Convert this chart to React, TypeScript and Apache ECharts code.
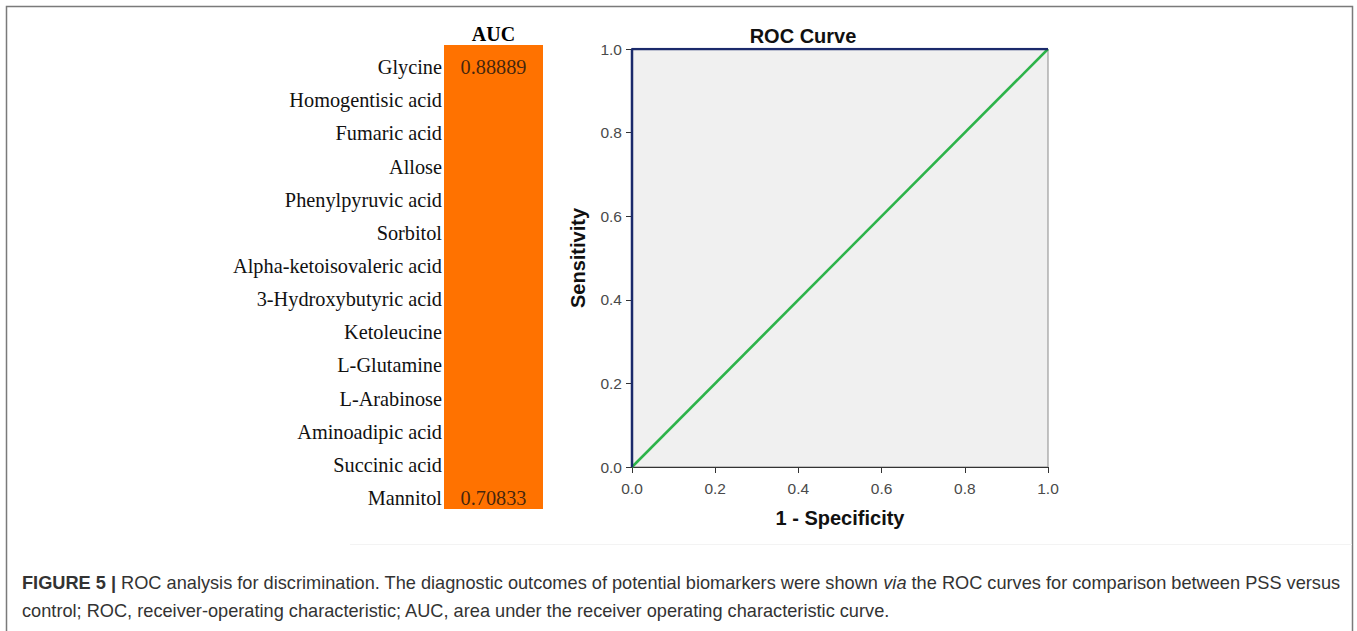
import React, { useEffect, useRef } from "react";
import * as echarts from "echarts";

const compounds = [
  "Glycine",
  "Homogentisic acid",
  "Fumaric acid",
  "Allose",
  "Phenylpyruvic acid",
  "Sorbitol",
  "Alpha-ketoisovaleric acid",
  "3-Hydroxybutyric acid",
  "Ketoleucine",
  "L-Glutamine",
  "L-Arabinose",
  "Aminoadipic acid",
  "Succinic acid",
  "Mannitol",
];
const aucValues: (number | null)[] = [
  0.88889, null, null, null, null, null, null, null, null, null, null, null, null, 0.70833,
];
const aucColumn = ["AUC"];

const rocFpr = [0, 0, 1];
const rocTpr = [0, 1, 1];
const refFpr = [0, 1];
const refTpr = [0, 1];

const chartTitle = "ROC Curve";
const xName = "1 - Specificity";
const yName = "Sensitivity";
const captionLine1 =
  "{b|FIGURE 5 |} ROC analysis for discrimination. The diagnostic outcomes of potential biomarkers were shown {i|via} the ROC curves for comparison between PSS versus";
const captionLine2 =
  "control; ROC, receiver-operating characteristic; AUC, area under the receiver operating characteristic curve.";

const SERIF = "'Liberation Serif', 'Times New Roman', serif";
const SANS = "'Liberation Sans', Arial, sans-serif";
const CAP = 18.2;

export default function App() {
  const ref = useRef<HTMLDivElement>(null);
  useEffect(() => {
    document.body.style.margin = "0";
    const chart = echarts.init(ref.current!, undefined, { renderer: "svg" });
    const aucData = compounds
      .map((c, i) => (aucValues[i] == null ? null : [aucColumn[0], c, aucValues[i]]))
      .filter((d) => d !== null);
    const option: any = {
      animation: false,
      backgroundColor: "#ffffff",
      title: {
        text: chartTitle,
        left: 803,
        top: 26,
        textAlign: "center",
        padding: 0,
        textStyle: { fontFamily: SANS, fontSize: 20, fontWeight: "bold", color: "#111" },
      },
      grid: [
        {
          left: 444,
          top: 45,
          width: 99,
          height: 464,
          show: true,
          backgroundColor: "#FF7200",
          borderWidth: 0,
        },
        {
          left: 632,
          top: 49,
          width: 416,
          height: 418,
          show: true,
          backgroundColor: "#F0F0F0",
          borderColor: "#8a8a8a",
          borderWidth: 1,
        },
      ],
      xAxis: [
        {
          gridIndex: 0,
          type: "category",
          data: aucColumn,
          position: "top",
          axisLine: { show: false },
          axisTick: { show: false },
          axisLabel: {
            margin: 1,
            fontFamily: SERIF,
            fontSize: 20,
            fontWeight: "bold",
            color: "#000",
          },
        },
        {
          gridIndex: 1,
          type: "value",
          min: 0,
          max: 1,
          interval: 0.2,
          splitLine: { show: false },
          axisLine: { show: true, onZero: false, lineStyle: { color: "#333", width: 1 } },
          axisTick: { show: true, length: 6, lineStyle: { color: "#333" } },
          axisLabel: {
            margin: 13,
            fontFamily: SANS,
            fontSize: 15.5,
            color: "#4a4a4a",
            formatter: (v: number) => v.toFixed(1),
          },
          name: xName,
          nameLocation: "middle",
          nameGap: 41,
          nameTextStyle: { fontFamily: SANS, fontSize: 20, fontWeight: "bold", color: "#111" },
        },
      ],
      yAxis: [
        {
          gridIndex: 0,
          type: "category",
          data: compounds,
          inverse: true,
          axisLine: { show: false },
          axisTick: { show: false },
          axisLabel: {
            margin: 2,
            fontFamily: SERIF,
            fontSize: 20.3,
            color: "#111",
            verticalAlign: "top",
            lineHeight: 11,
          },
        },
        {
          gridIndex: 1,
          type: "value",
          min: 0,
          max: 1,
          interval: 0.2,
          splitLine: { show: false },
          axisLine: { show: true, onZero: false, lineStyle: { color: "#333", width: 1 } },
          axisTick: { show: true, length: 6, lineStyle: { color: "#333" } },
          axisLabel: {
            margin: 10,
            fontFamily: SANS,
            fontSize: 15.5,
            color: "#4a4a4a",
            formatter: (v: number) => v.toFixed(1),
          },
          name: yName,
          nameLocation: "middle",
          nameGap: 44,
          nameTextStyle: { fontFamily: SANS, fontSize: 20, fontWeight: "bold", color: "#111" },
        },
      ],
      series: [
        {
          type: "scatter",
          xAxisIndex: 0,
          yAxisIndex: 0,
          data: aucData,
          symbol: "circle",
          symbolSize: 1,
          itemStyle: { color: "rgba(0,0,0,0)" },
          label: {
            show: true,
            position: "inside",
            offset: [0, 5.5],
            formatter: (p: any) => Number(p.value[2]).toFixed(5),
            fontFamily: SERIF,
            fontSize: 20.3,
            color: "#111",
          },
        },
        {
          type: "line",
          xAxisIndex: 1,
          yAxisIndex: 1,
          data: refFpr.map((x, i) => [x, refTpr[i]]),
          showSymbol: false,
          symbol: "none",
          lineStyle: { color: "#2DB34A", width: 2.5 },
          z: 3,
        },
        {
          type: "line",
          xAxisIndex: 1,
          yAxisIndex: 1,
          data: rocFpr.map((x, i) => [x, rocTpr[i]]),
          showSymbol: false,
          symbol: "none",
          lineStyle: { color: "#1B2A6B", width: 2.5 },
          z: 4,
        },
      ],
      graphic: [
        {
          type: "rect",
          shape: { x: 6.5, y: 6.5, width: 1346, height: 700 },
          style: { fill: "rgba(0,0,0,0)", stroke: "#7a7a7a", lineWidth: 1.5 },
          silent: true,
          z: -1,
        },
        {
          type: "line",
          shape: { x1: 350, y1: 544.5, x2: 1352, y2: 544.5 },
          style: { stroke: "#f3f3f3", lineWidth: 1 },
          silent: true,
        },
        {
          type: "text",
          x: 22,
          y: 583,
          style: {
            text: captionLine1,
            fontFamily: SANS,
            fontSize: CAP,
            fill: "#333",
            verticalAlign: "middle",
            rich: {
              b: { fontFamily: SANS, fontSize: CAP, fontWeight: "bold", fill: "#333" },
              i: { fontFamily: SANS, fontSize: CAP, fontStyle: "italic", fill: "#333" },
            },
          },
        },
        {
          type: "text",
          x: 22,
          y: 611,
          style: {
            text: captionLine2,
            fontFamily: SANS,
            fontSize: CAP,
            fill: "#333",
            verticalAlign: "middle",
          },
        },
      ],
    };
    chart.setOption(option);
    return () => chart.dispose();
  }, []);
  return <div ref={ref} style={{ width: 1357, height: 631 }} />;
}
